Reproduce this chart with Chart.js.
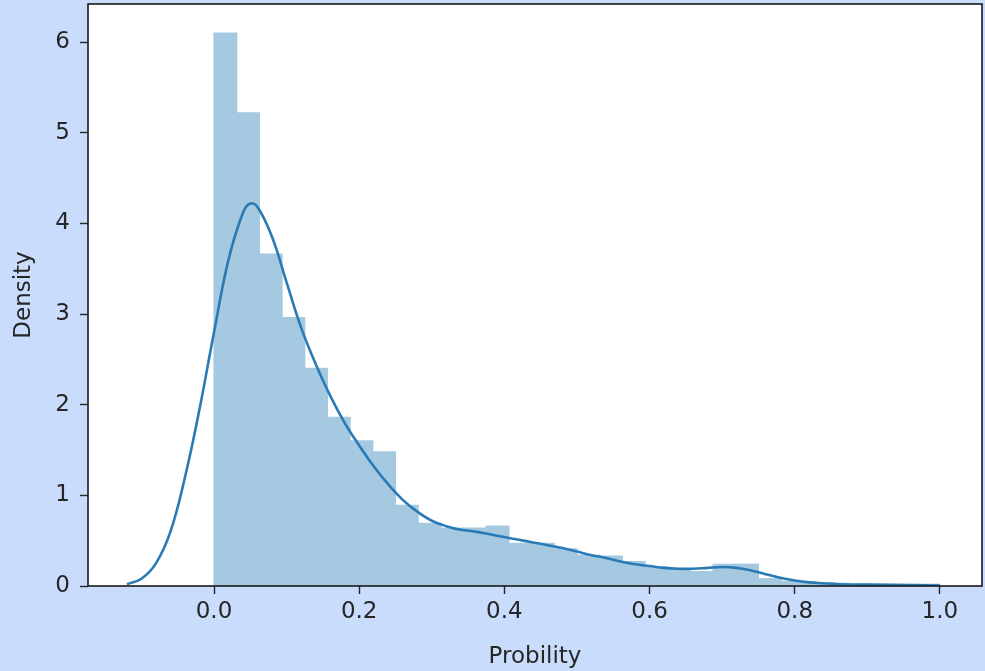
<!DOCTYPE html>
<html>
<head>
<meta charset="utf-8">
<script src="https://cdn.jsdelivr.net/npm/chart.js@4.4.1/dist/chart.umd.min.js"></script>
<style>
  html, body { margin: 0; padding: 0; background: #c9dcfb; }
  #wrap { width: 985px; height: 671px; }
</style>
</head>
<body>
<div id="wrap"><canvas id="histChart" width="985" height="671"></canvas></div>
<script>
// histogram: 32 bins of width 0.03125 starting at 0.0
const binStart = 0.0;
const binWidth = 0.03125;
const binDensity = [
  6.10, 5.22, 3.66, 2.96, 2.40, 1.86, 1.60, 1.48,
  0.89, 0.69, 0.64, 0.64, 0.66, 0.47, 0.47, 0.41,
  0.34, 0.33, 0.27, 0.21, 0.19, 0.16, 0.24, 0.24,
  0.08, 0.05, 0.03, 0.03, 0.02, 0.02, 0.02, 0.02
];

// kde curve samples
const kdeX = [
  -0.12, -0.10, -0.08, -0.06, -0.04, -0.02, 0.00, 0.02, 0.04, 0.05,
  0.06, 0.08, 0.10, 0.12, 0.14, 0.16, 0.18, 0.20, 0.22, 0.24,
  0.26, 0.28, 0.30, 0.32, 0.34, 0.36, 0.38, 0.40, 0.42, 0.44,
  0.46, 0.48, 0.50, 0.52, 0.54, 0.56, 0.58, 0.60, 0.62, 0.64,
  0.66, 0.68, 0.70, 0.72, 0.74, 0.76, 0.78, 0.80, 0.82, 0.84,
  0.86, 0.90, 0.95, 1.00
];
const kdeY = [
  0.02, 0.08, 0.25, 0.60, 1.20, 1.95, 2.80, 3.60, 4.12, 4.22,
  4.18, 3.85, 3.35, 2.85, 2.45, 2.10, 1.80, 1.55, 1.32, 1.12,
  0.95, 0.82, 0.72, 0.66, 0.62, 0.60, 0.57, 0.54, 0.51, 0.48,
  0.45, 0.42, 0.38, 0.34, 0.31, 0.27, 0.24, 0.22, 0.20, 0.19,
  0.19, 0.20, 0.21, 0.20, 0.17, 0.13, 0.09, 0.06, 0.04, 0.03,
  0.02, 0.015, 0.01, 0.005
];

const xTicks = [0.0, 0.2, 0.4, 0.6, 0.8, 1.0];
const yTicks = [0, 1, 2, 3, 4, 5, 6];

const histPoints = binDensity.map((d, i) => ({ x: binStart + binWidth * (i + 0.5), y: d }));
const kdePoints = kdeX.map((x, i) => ({ x: x, y: kdeY[i] }));

const tickFont = { family: 'DejaVu Sans', size: 23 };
const inkColor = '#262626';

// white plot background + black frame round the plot area
const frame = {
  id: 'frame',
  beforeDraw(chart) {
    const a = chart.chartArea, c = chart.ctx;
    c.save();
    c.fillStyle = '#ffffff';
    c.fillRect(a.left, a.top, a.right - a.left, a.bottom - a.top);
    c.restore();
  },
  afterDraw(chart) {
    const a = chart.chartArea, c = chart.ctx;
    c.save();
    c.strokeStyle = '#1a1a1a';
    c.lineWidth = 1.6;
    c.strokeRect(a.left, a.top, a.right - a.left, a.bottom - a.top);
    c.restore();
  }
};

new Chart(document.getElementById('histChart'), {
  type: 'bar',
  data: {
    datasets: [
      {
        type: 'line',
        label: 'kde',
        data: kdePoints,
        borderColor: '#2a7ab5',
        borderWidth: 2.6,
        pointRadius: 0,
        tension: 0.4,
        fill: false,
        order: 0
      },
      {
        type: 'bar',
        label: 'hist',
        data: histPoints,
        backgroundColor: '#a5c9e1',
        borderWidth: 0,
        inflateAmount: 0.6,
        barPercentage: 1.0,
        categoryPercentage: 1.0,
        grouped: false,
        order: 1
      }
    ]
  },
  plugins: [frame],
  options: {
    responsive: false,
    animation: false,
    layout: { padding: { top: 4, right: 3, left: 0, bottom: 0 } },
    plugins: { legend: { display: false }, tooltip: { enabled: false } },
    scales: {
      x: {
        type: 'linear',
        offset: false,
        min: -0.1736,
        max: 1.058,
        afterBuildTicks: s => { s.ticks = xTicks.map(v => ({ value: v })); },
        afterFit: s => { s.height = 85; s.paddingLeft = 0; s.paddingRight = 0; },
        grid: { offset: false, drawOnChartArea: false, drawTicks: true, tickLength: 8, tickColor: inkColor, tickWidth: 1.4 },
        border: { display: false },
        ticks: {
          font: tickFont, color: inkColor, padding: 4, maxRotation: 0,
          callback: v => Number(v).toFixed(1)
        },
        title: {
          display: true, text: 'Probility', font: tickFont, color: inkColor,
          padding: { top: 0, bottom: 0 }
        }
      },
      y: {
        type: 'linear',
        min: 0,
        max: 6.42,
        afterBuildTicks: s => { s.ticks = yTicks.map(v => ({ value: v })); },
        afterFit: s => { s.width = 88; s.paddingTop = 0; s.paddingBottom = 0; },
        grid: { offset: false, drawOnChartArea: false, drawTicks: true, tickLength: 8, tickColor: inkColor, tickWidth: 1.4 },
        border: { display: false },
        ticks: { font: tickFont, color: inkColor, padding: 10 },
        title: {
          display: true, text: 'Density', font: tickFont, color: inkColor,
          padding: { top: 10, bottom: 0 }
        }
      }
    }
  }
});
</script>
</body>
</html>
